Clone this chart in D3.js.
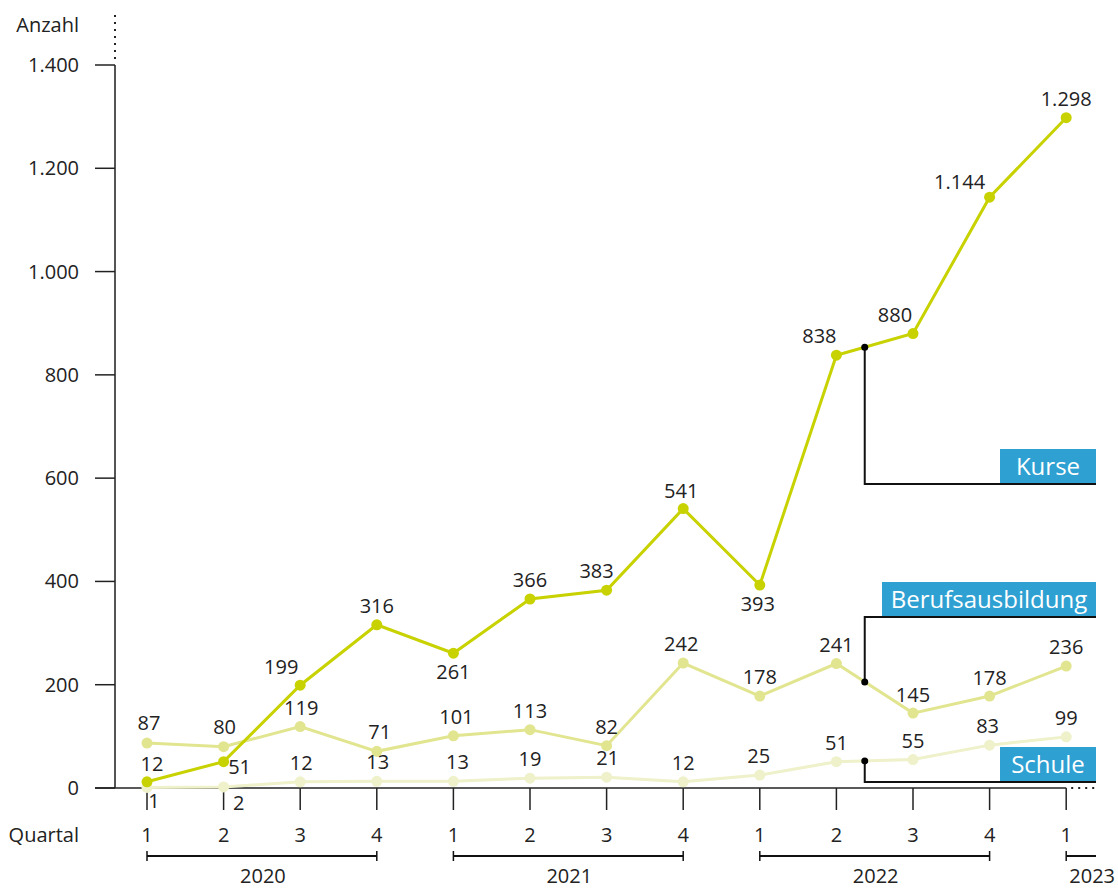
<!DOCTYPE html>
<html lang="de">
<head>
<meta charset="utf-8">
<script src="https://cdn.jsdelivr.net/npm/d3@7"></script>
<style>
  html, body { margin: 0; padding: 0; background: #fff; }
  svg text { font-family: "Open Sans", "Noto Sans", sans-serif; fill: #222; }
</style>
</head>
<body>
<svg id="chart" width="1118" height="890"></svg>
<script>
// Quarterly counts 2020 Q1 – 2023 Q1
const quarters = ["1", "2", "3", "4", "1", "2", "3", "4", "1", "2", "3", "4", "1"];
const years = [
  { label: "2020", from: 0, to: 3 },
  { label: "2021", from: 4, to: 7 },
  { label: "2022", from: 8, to: 11 },
  { label: "2023", from: 12, to: 12 }
];
const kurse = [12, 51, 199, 316, 261, 366, 383, 541, 393, 838, 880, 1144, 1298];
const berufsausbildung = [87, 80, 119, 71, 101, 113, 82, 242, 178, 241, 145, 178, 236];
const schule = [1, 2, 12, 13, 13, 19, 21, 12, 25, 51, 55, 83, 99];
const yTicks = [0, 200, 400, 600, 800, 1000, 1200, 1400];

// label placement per point: [dx, dy] relative to the point
const kurseLabelPos = [[5, -18], [16, 5], [-19, -18], [0, -19], [0, 19], [0, -19], [-10, -19], [-2, -18], [-2, 19], [-17, -19], [-18, -19], [-30, -15], [0, -19]];
const berufLabelPos = [[2, -20], [1, -20], [1, -19], [3, -19], [3, -19], [0, -19], [0, -19], [-2, -19], [0, -19], [0, -19], [0, -18], [0, -18], [0, -19]];
const schuleLabelPos = [[7, 14], [15, 16], [1, -19], [1, -19], [4, -19], [0, -19], [1, -19], [0, -19], [-1, -19], [0, -19], [0, -19], [-2, -19], [0, -19]];

const svg = d3.select("#chart");
const de = d3.formatLocale({ decimal: ",", thousands: ".", grouping: [3], currency: ["", " €"] });
const fmt = de.format(",d");

const fontSize = 20;
const x0 = 147, step = 76.6;
const x = d3.scaleLinear().domain([0, 12]).range([x0, x0 + 12 * step]);
const y = d3.scaleLinear().domain([0, 1400]).range([788, 65]);

const axisX = 115;
const tickLeft = 95;
const rightEdge = 1096;

// y axis
svg.append("line").attr("x1", axisX).attr("x2", axisX).attr("y1", y(1400)).attr("y2", y(0))
  .attr("stroke", "#555").attr("stroke-width", 2);
svg.append("line").attr("x1", axisX).attr("x2", axisX).attr("y1", y(1400) - 6).attr("y2", 14)
  .attr("stroke", "#222").attr("stroke-width", 2).attr("stroke-dasharray", "2,5");
svg.selectAll(".ytick").data(yTicks).join("line")
  .attr("x1", tickLeft).attr("x2", axisX).attr("y1", d => y(d)).attr("y2", d => y(d))
  .attr("stroke", "#222").attr("stroke-width", 1.5);
svg.selectAll(".ylab").data(yTicks).join("text")
  .attr("x", 79).attr("y", d => y(d)).attr("dy", "0.35em").attr("text-anchor", "end")
  .attr("font-size", fontSize).text(d => fmt(d));
svg.append("text").attr("x", 79).attr("y", 25).attr("dy", "0.35em").attr("text-anchor", "end")
  .attr("font-size", fontSize).text("Anzahl");

// x axis
svg.append("line").attr("x1", tickLeft).attr("x2", x(12)).attr("y1", y(0)).attr("y2", y(0))
  .attr("stroke", "#222").attr("stroke-width", 1.5);
svg.append("line").attr("x1", x(12) + 5).attr("x2", rightEdge).attr("y1", y(0)).attr("y2", y(0))
  .attr("stroke", "#222").attr("stroke-width", 2).attr("stroke-dasharray", "2,5");
svg.selectAll(".xtick").data(quarters).join("line")
  .attr("x1", (d, i) => x(i)).attr("x2", (d, i) => x(i)).attr("y1", y(0)).attr("y2", y(0) + 22)
  .attr("stroke", "#222").attr("stroke-width", 1.5);
svg.selectAll(".xlab").data(quarters).join("text")
  .attr("x", (d, i) => x(i)).attr("y", 835).attr("dy", "0.35em").attr("text-anchor", "middle")
  .attr("font-size", fontSize).text(d => d);
svg.append("text").attr("x", 79).attr("y", 835).attr("dy", "0.35em").attr("text-anchor", "end")
  .attr("font-size", fontSize).text("Quartal");

// year brackets
const yb = 856;
years.forEach(yr => {
  const xa = x(yr.from);
  const xb = yr.from === yr.to ? rightEdge : x(yr.to);
  const g = svg.append("g");
  g.append("line").attr("x1", xa).attr("x2", xb).attr("y1", yb).attr("y2", yb)
    .attr("stroke", "#111").attr("stroke-width", 2);
  g.append("line").attr("x1", xa).attr("x2", xa).attr("y1", yb - 5).attr("y2", yb + 5)
    .attr("stroke", "#111").attr("stroke-width", 1.5);
  if (yr.from !== yr.to) {
    g.append("line").attr("x1", xb).attr("x2", xb).attr("y1", yb - 5).attr("y2", yb + 5)
      .attr("stroke", "#111").attr("stroke-width", 1.5);
  }
  const cx = yr.from === yr.to ? xa + 26 : (xa + xb) / 2 + 1;
  g.append("text").attr("x", cx).attr("y", 876).attr("dy", "0.35em").attr("text-anchor", "middle")
    .attr("font-size", fontSize).text(yr.label);
});

// series
const series = [
  { name: "Schule", values: schule, color: "#EEF1C9", pos: schuleLabelPos },
  { name: "Berufsausbildung", values: berufsausbildung, color: "#E2E58F", pos: berufLabelPos },
  { name: "Kurse", values: kurse, color: "#C8D200", pos: kurseLabelPos }
];
const line = d3.line().x((d, i) => x(i)).y(d => y(d));

series.forEach(s => {
  const g = svg.append("g");
  g.append("path").attr("d", line(s.values)).attr("fill", "none")
    .attr("stroke", s.color).attr("stroke-width", 3);
  g.selectAll("circle").data(s.values).join("circle")
    .attr("cx", (d, i) => x(i)).attr("cy", d => y(d)).attr("r", 5.5).attr("fill", s.color);
});
series.forEach(s => {
  svg.append("g").selectAll("text").data(s.values).join("text")
    .attr("x", (d, i) => x(i) + s.pos[i][0]).attr("y", (d, i) => y(d) + s.pos[i][1])
    .attr("dy", "0.35em").attr("text-anchor", "middle").attr("font-size", fontSize)
    .text(d => fmt(d));
});

// callouts: anchored between 2022 Q2 and Q3
const anchorT = 9.37;
function valueAt(vals, t) {
  const i = Math.floor(t), f = t - i;
  return vals[i] + (vals[i + 1] - vals[i]) * f;
}
const callouts = [
  { name: "Kurse", values: kurse, lineY: 484, boxW: 96 },
  { name: "Berufsausbildung", values: berufsausbildung, lineY: 617, boxW: 214 },
  { name: "Schule", values: schule, lineY: 782, boxW: 96 }
];
callouts.forEach(c => {
  const ax = x(anchorT), ay = y(valueAt(c.values, anchorT));
  const g = svg.append("g");
  g.append("path")
    .attr("d", `M${ax},${ay} V${c.lineY} H${rightEdge}`)
    .attr("fill", "none").attr("stroke", "#111").attr("stroke-width", 2);
  g.append("circle").attr("cx", ax).attr("cy", ay).attr("r", 3.5).attr("fill", "#000");
  const bx = rightEdge - c.boxW;
  const by = c.lineY - 35;
  g.append("rect").attr("x", bx).attr("y", by).attr("width", c.boxW).attr("height", 34)
    .attr("fill", "#2EA0D2");
  g.append("text").attr("x", bx + c.boxW / 2).attr("y", by + 18).attr("dy", "0.35em")
    .attr("text-anchor", "middle").attr("font-size", 24).style("fill", "#fff").text(c.name);
});
</script>
</body>
</html>
